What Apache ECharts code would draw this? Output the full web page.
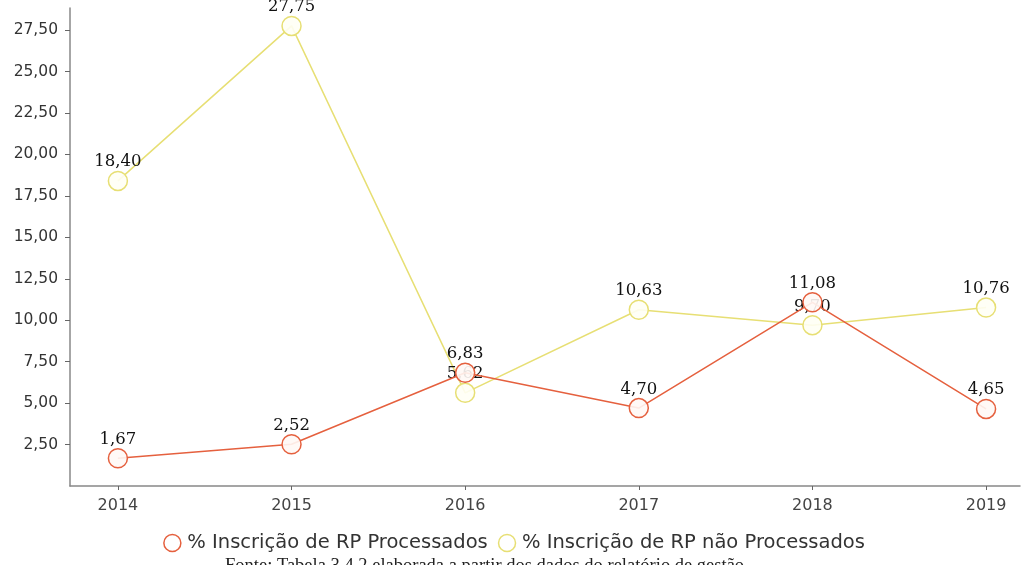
<!DOCTYPE html>
<html>
<head>
<meta charset="utf-8">
<script src="https://cdn.jsdelivr.net/npm/echarts@6/dist/echarts.min.js"></script>
<style>
  html, body { margin: 0; padding: 0; background: #fff; }
  #chart { width: 1028px; height: 565px; }
</style>
</head>
<body>
<div id="chart"></div>
<script>
// Anos e percentuais de inscrição em restos a pagar
const years = [2014, 2015, 2016, 2017, 2018, 2019];
const rpProcessados = [1.67, 2.52, 6.83, 4.70, 11.08, 4.65];
const rpNaoProcessados = [18.40, 27.75, 5.62, 10.63, 9.70, 10.76];
const yTicks = [2.5, 5, 7.5, 10, 12.5, 15, 17.5, 20, 22.5, 25, 27.5];
const seriesNames = ['% Inscrição de RP Processados', '% Inscrição de RP não Processados'];
const caption = 'Fonte: Tabela 3.4.2 elaborada a partir dos dados do relatório de gestão';

const fmt = v => v.toFixed(2).replace('.', ',');
const pairs = vals => years.map((y, i) => [y, vals[i]]);

const chart = echarts.init(document.getElementById('chart'));

function lineSeries(name, vals, color, fill, z) {
  return {
    name: name,
    type: 'line',
    data: pairs(vals),
    z: z,
    symbol: 'circle',
    symbolSize: 19,
    lineStyle: { color: color, width: 1.5 },
    itemStyle: { color: fill, borderColor: color, borderWidth: 1.5 },
    label: {
      show: true,
      position: 'top',
      distance: 0,
      formatter: p => fmt(p.value[1]),
      fontFamily: 'DejaVu Serif',
      fontSize: 16.5,
      color: '#111'
    },
    emphasis: { disabled: true },
    animation: false
  };
}

chart.setOption({
  animation: false,
  grid: { left: 70, right: 8, top: 8, bottom: 79 },
  legend: {
    bottom: 7,
    left: 'center',
    itemGap: 10,
    itemWidth: 20,
    itemHeight: 17,
    icon: 'circle',
    textStyle: { fontFamily: 'DejaVu Sans', fontSize: 19.5, color: '#333' },
    data: [
      { name: seriesNames[0], itemStyle: { color: '#fff', borderColor: '#e5603e', borderWidth: 1.5 } },
      { name: seriesNames[1], itemStyle: { color: '#fff', borderColor: '#e7df74', borderWidth: 1.5 } }
    ]
  },
  xAxis: {
    type: 'value',
    min: 2014 - 48 / 174,
    max: 2019 + 34 / 174,
    splitLine: { show: false },
    offset: 2,
    axisLine: { show: true, lineStyle: { color: '#888', width: 1.5 } },
    axisTick: { show: true, length: 4, lineStyle: { color: '#666' }, customValues: years },
    axisLabel: {
      customValues: years,
      formatter: v => String(Math.round(v)),
      fontFamily: 'DejaVu Sans',
      fontSize: 16,
      color: '#444',
      margin: 10
    }
  },
  yAxis: {
    type: 'value',
    min: 0,
    max: 28.83,
    splitLine: { show: false },
    axisLine: { show: true, lineStyle: { color: '#888', width: 1.5 } },
    axisTick: { show: true, length: 5, lineStyle: { color: '#666' }, customValues: yTicks },
    axisLabel: {
      customValues: yTicks,
      formatter: v => fmt(v),
      fontFamily: 'DejaVu Sans',
      fontSize: 15.5,
      color: '#333',
      margin: 12
    }
  },
  series: [
    lineSeries(seriesNames[1], rpNaoProcessados, '#e7df74', 'rgba(255,255,245,0.9)', 2),
    lineSeries(seriesNames[0], rpProcessados, '#e5603e', 'rgba(255,248,245,0.9)', 3)
  ],
  graphic: [{
    type: 'text',
    left: 225,
    top: 557,
    style: { text: caption, font: '18.5px "Liberation Serif"', fill: '#222' }
  }]
});
</script>
</body>
</html>
